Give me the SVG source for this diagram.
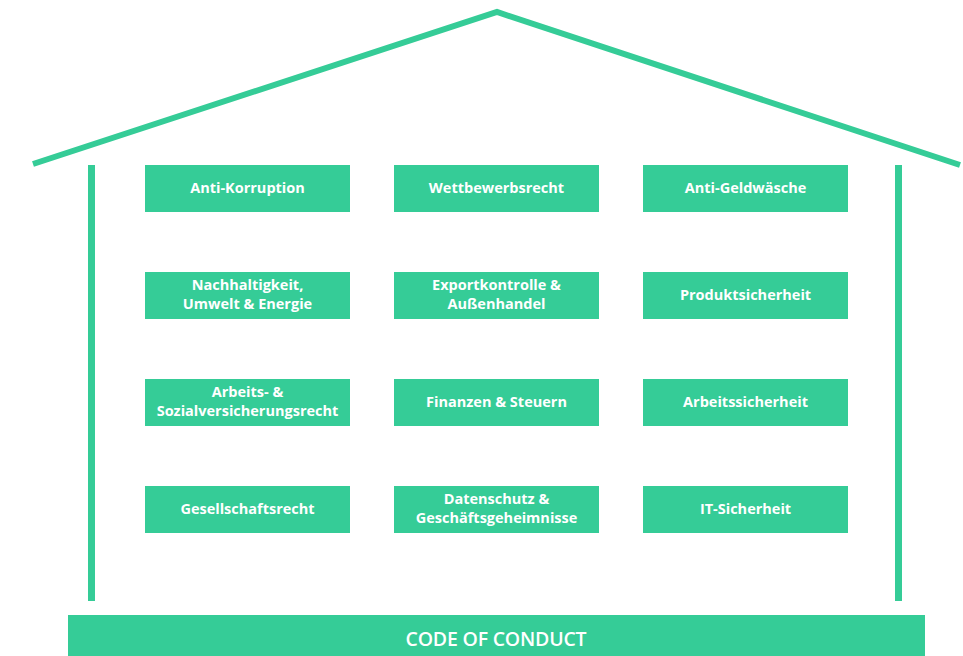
<svg xmlns="http://www.w3.org/2000/svg" width="963" height="656" viewBox="0 0 963 656">
  <style>
    .frame { fill: none; stroke: #35cc97; stroke-width: 6; stroke-linejoin: miter; }
    .wall { fill: #35cc97; }
    .box { fill: #35cc97; }
    .label { font-family: "Open Sans", "Noto Sans", "Liberation Sans", sans-serif; font-weight: 700; font-size: 14.5px; fill: #ffffff; text-anchor: middle; }
    .base { font-family: "Open Sans", "Noto Sans", "Liberation Sans", sans-serif; font-weight: 600; font-size: 19.5px; fill: #ffffff; text-anchor: middle; letter-spacing: -0.2px; }
  </style>
  <rect width="963" height="656" fill="#ffffff"/>

  <!-- house outline: roof and walls -->
  <g id="house">
    <polyline class="frame" points="33,164 497,12 960,165"/>
    <rect class="wall" x="88" y="165" width="7" height="436"/>
    <rect class="wall" x="895" y="165" width="7" height="436"/>
  </g>

  <!-- foundation -->
  <g id="code-of-conduct">
    <rect class="box" x="68" y="615" width="857" height="41"/>
    <text class="base" x="496" y="646">CODE OF CONDUCT</text>
  </g>

  <g id="connectors"/>

  <!-- row 1 -->
  <g id="anti-korruption">
    <rect class="box" x="145" y="165" width="205" height="47"/>
    <text class="label" x="247.5" y="193">Anti-Korruption</text>
  </g>
  <g id="wettbewerbsrecht">
    <rect class="box" x="394" y="165" width="205" height="47"/>
    <text class="label" x="496.5" y="193">Wettbewerbsrecht</text>
  </g>
  <g id="anti-geldwaesche">
    <rect class="box" x="643" y="165" width="205" height="47"/>
    <text class="label" x="745.5" y="193">Anti-Geldwäsche</text>
  </g>

  <!-- row 2 -->
  <g id="nachhaltigkeit">
    <rect class="box" x="145" y="272" width="205" height="47"/>
    <text class="label" x="247.5" y="290">Nachhaltigkeit,</text>
    <text class="label" x="247.5" y="309">Umwelt &amp; Energie</text>
  </g>
  <g id="exportkontrolle">
    <rect class="box" x="394" y="272" width="205" height="47"/>
    <text class="label" x="496.5" y="290">Exportkontrolle &amp;</text>
    <text class="label" x="496.5" y="309">Außenhandel</text>
  </g>
  <g id="produktsicherheit">
    <rect class="box" x="643" y="272" width="205" height="47"/>
    <text class="label" x="745.5" y="300">Produktsicherheit</text>
  </g>

  <!-- row 3 -->
  <g id="arbeitsrecht">
    <rect class="box" x="145" y="379" width="205" height="47"/>
    <text class="label" x="247.5" y="397">Arbeits- &amp;</text>
    <text class="label" x="247.5" y="416">Sozialversicherungsrecht</text>
  </g>
  <g id="finanzen">
    <rect class="box" x="394" y="379" width="205" height="47"/>
    <text class="label" x="496.5" y="407">Finanzen &amp; Steuern</text>
  </g>
  <g id="arbeitssicherheit">
    <rect class="box" x="643" y="379" width="205" height="47"/>
    <text class="label" x="745.5" y="407">Arbeitssicherheit</text>
  </g>

  <!-- row 4 -->
  <g id="gesellschaftsrecht">
    <rect class="box" x="145" y="486" width="205" height="47"/>
    <text class="label" x="247.5" y="514">Gesellschaftsrecht</text>
  </g>
  <g id="datenschutz">
    <rect class="box" x="394" y="486" width="205" height="47"/>
    <text class="label" x="496.5" y="504">Datenschutz &amp;</text>
    <text class="label" x="496.5" y="523">Geschäftsgeheimnisse</text>
  </g>
  <g id="it-sicherheit">
    <rect class="box" x="643" y="486" width="205" height="47"/>
    <text class="label" x="745.5" y="514">IT-Sicherheit</text>
  </g>
</svg>
